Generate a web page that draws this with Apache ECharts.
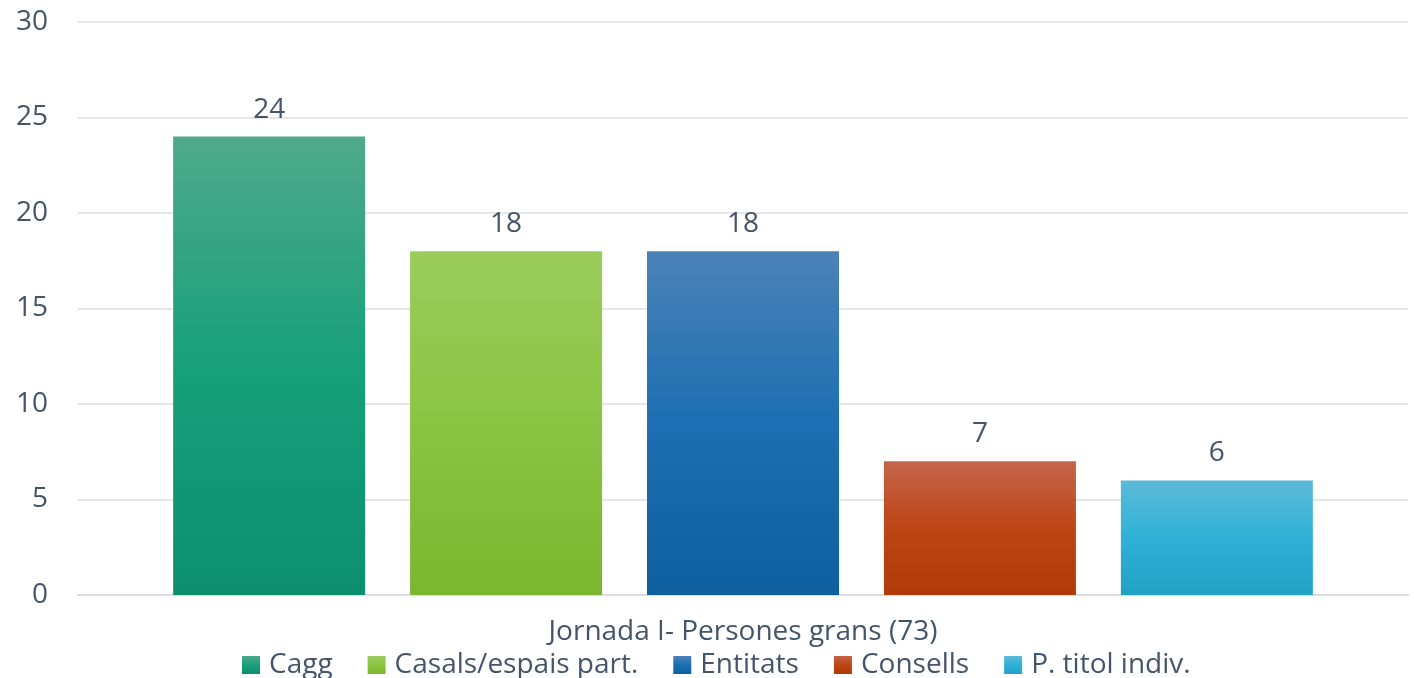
<!DOCTYPE html>
<html>
<head>
<meta charset="utf-8">
<script src="https://cdn.jsdelivr.net/npm/echarts@6/dist/echarts.min.js"></script>
<style>
  html, body { margin: 0; padding: 0; background: #fff; }
  #chart { width: 1414px; height: 678px; }
</style>
</head>
<body>
<div id="chart"></div>
<script>
const categories = ['Jornada I- Persones grans (73)']
const seriesNames = ['Cagg', 'Casals/espais part.', 'Entitats', 'Consells', 'P. titol indiv.']
const seriesValues = [[24], [18], [18], [7], [6]]
const yTicks = { min: 0, max: 30, interval: 5 }

// top / middle / bottom colours of each bar gradient
const barColors = [
  ['#4fa98a', '#17a07a', '#0d8f6e'],
  ['#9bcc5d', '#8bc441', '#7bb62e'],
  ['#4b82b8', '#1c6fb2', '#0e5f9e'],
  ['#c5654b', '#bd4514', '#b03a08'],
  ['#5cbad6', '#2fb1d8', '#1fa2c4']
]

const textColor = '#44546a'
const font = 'Open Sans'

const grad = c => new echarts.graphic.LinearGradient(0, 0, 0, 1, [
  { offset: 0, color: c[0] },
  { offset: 0.5, color: c[1] },
  { offset: 1, color: c[2] }
])

const chart = echarts.init(document.getElementById('chart'))

const option = {
  animation: false,
  textStyle: { fontFamily: font },
  grid: { left: 78, right: 6, top: 22, bottom: 83 },
  legend: {
    data: seriesNames,
    left: 237,
    top: 646,
    icon: 'rect',
    itemWidth: 18,
    itemHeight: 18,
    itemGap: 35,
    textStyle: { color: textColor, fontSize: 28, fontFamily: font, padding: [0, 0, 0, 4] }
  },
  xAxis: {
    type: 'category',
    data: categories,
    axisLine: { show: true, lineStyle: { color: '#dadde2', width: 2 } },
    axisTick: { show: false },
    axisLabel: { color: textColor, fontSize: 28, margin: 23 }
  },
  yAxis: {
    type: 'value',
    min: yTicks.min,
    max: yTicks.max,
    interval: yTicks.interval,
    axisLine: { show: false },
    axisTick: { show: false },
    axisLabel: { color: textColor, fontSize: 28, margin: 30 },
    splitLine: { lineStyle: { color: '#e3e6eb', width: 2 } }
  },
  series: seriesNames.map((name, i) => ({
    name,
    type: 'bar',
    data: seriesValues[i],
    barWidth: 192,
    barGap: '23.4%',
    itemStyle: { color: grad(barColors[i]) },
    label: {
      show: true,
      position: 'top',
      distance: 13,
      color: textColor,
      fontSize: 28
    }
  }))
}

chart.setOption(option)
</script>
</body>
</html>
